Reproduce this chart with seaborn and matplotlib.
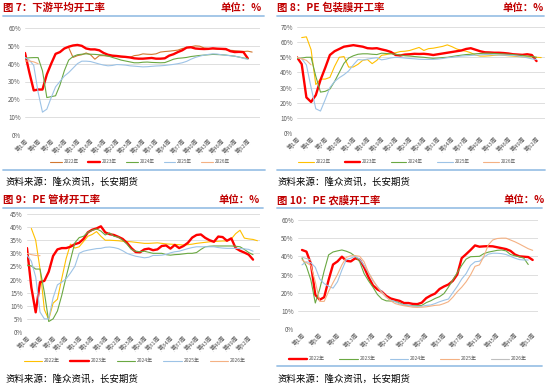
import pandas as pd
import numpy as np
import matplotlib
matplotlib.use('Agg')
import matplotlib.pyplot as plt
from matplotlib.lines import Line2D
import seaborn as sns

# ==========================================
# DATA  (weekly operating rate, %)
# ==========================================
years = ['2022年', '2023年', '2024年', '2025年', '2026年']

# Fig 7: downstream average
f7_2022 = [49, 43.5, 44.5, 45, 46, 45, 42.5, 44.5, 44.5, 44.2, 44, 44, 43.8, 43.5, 43.5, 44.5, 44.8,
           45.5, 45.3, 45.2, 45.5, 46.5, 46.8, 47, 47.3, 47.6, 48.5, 49, 49.5, 50, 49.8, 48.8, 48.5,
           48.3, 48.2, 48, 47.8, 47.5, 47.3, 47, 46.8, 47, 46.5]
f7_2023 = [46, 35, 25, 25.5, 25.5, 34, 40, 45.5, 46.5, 48.5, 49.5, 50.2, 50.5, 50, 48.5, 48, 48, 47.5,
           46, 45, 44.5, 44.3, 44, 43.8, 43.5, 43, 42.8, 42.8, 43, 43.2, 42.8, 42.8, 43, 44.5, 45.3,
           46.5, 47.5, 49, 49.2, 48.5, 48.3, 48.2, 48.3, 48.6, 48.4, 48.3, 48.2, 47, 46.5, 46.6, 46.5, 43]
f7_2024 = [43, 43.3, 43.4, 43.4, 36, 21, 21.5, 22, 28, 36, 42, 44, 45, 45.3, 45.5, 45.3, 45.2, 45,
           44.8, 44.3, 43.5, 42.8, 42, 41.5, 41, 40.5, 40.5, 40.8, 40.9, 40.7, 40.6, 40.5, 40.6, 41.5,
           42.5, 43, 43.2, 43.5, 44, 44.3, 44.6, 44.8, 45, 45.2, 45.1, 45, 44.8, 44.5, 44.2, 43.7, 43.2, 42.8]
f7_2025 = [43.5, 42, 39, 24, 12.8, 14.5, 21, 27, 30, 33, 35, 37.5, 40, 41.4, 41.4, 41.2, 40.5, 39.8,
           39.2, 38.8, 39, 39.5, 39.4, 39.2, 38.8, 38.6, 38.4, 38.2, 38.3, 38.5, 38.7, 38.8, 39, 39.3,
           39.6, 40, 40.5, 41.3, 42.5, 43.5, 44.2, 44.8, 45.2, 45.5, 45.4, 45, 44.7, 44.5, 44.2, 43.7, 43, 42.4]
f7_2026 = [41.5, 41.5, 41, 40]
f7_start = [11, 1, 1, 1, 1]

# Fig 8: PE packaging film
f8_2022 = [63, 63.5, 55, 32, 35.6, 35.6, 36.7, 44, 50, 50.5, 43.5, 43.6, 45.4, 48, 48.5, 45.8, 48,
           51.3, 51.8, 52.5, 53, 53.8, 54, 54.5, 55.5, 56.5, 54.5, 55.7, 56, 56.6, 57.2, 58.2, 57,
           55.5, 54.5, 54, 53, 51.5, 50.8, 50.8, 51, 51.3, 51.5, 51.3, 51, 50.8, 50.5, 50.3, 50.2,
           50.2, 50, 49.8]
f8_2023 = [50, 45.5, 23.5, 20.5, 25, 35, 43, 51.5, 54, 55.5, 57, 57.5, 58, 57.5, 57, 56, 55.8, 56,
           55.2, 54.5, 53.5, 51.5, 51.2, 51.8, 52, 52.3, 52.2, 52.3, 52, 51.5, 52, 52.5, 53, 53.5, 54,
           54.5, 55.5, 56, 55, 54, 53.3, 53.2, 53, 53, 52.8, 52.5, 52, 51.8, 51.6, 52, 51.5, 47.5]
f8_2024 = [49.2, 49.5, 50, 50, 37.5, 27, 27.5, 29, 34, 40, 46, 49.5, 51, 52, 52.3, 52.3, 52, 51.8,
           52.7, 52.5, 52.3, 52, 51.5, 51, 50.8, 50.5, 50.2, 50, 49.6, 49.3, 49.5, 49.8, 50, 50.5, 51,
           51.4, 51.8, 52, 52.3, 52.5, 52.7, 52.7, 52.5, 52.3, 52.2, 52, 51.8, 51.5, 51.2, 50.8, 50.5, 50]
f8_2025 = [50, 49, 45, 30, 16, 14.5, 22, 30, 34, 36.5, 38.5, 41, 45, 48.5, 48.2, 48.8, 49.3, 49.7,
           48.3, 48.8, 49.6, 50, 49.8, 49.5, 49.2, 49, 48.7, 48.6, 48.6, 48.6, 48.8, 49.2, 49.7, 50,
           50.4, 50.8, 51, 51.2, 51.4, 51.6, 51.8, 51.8, 51.6, 51.5, 51.4, 51.3, 51.2, 50.8, 50.3,
           49.7, 49, 48.5]
f8_2026 = [50, 49, 48, 45]
f8_start = [2, 1, 1, 1, 1]

# Fig 9: PE pipe
f9_2022 = [39.5, 35, 24, 8.5, 4.8, 11, 12.5, 20.4, 28, 33.5, 32, 32.5, 34.5, 36.5, 37.2, 38.3, 36.5,
           35, 35, 34.9, 34.8, 34.6, 34.5, 34.4, 34.2, 34, 33.8, 33.8, 33.9, 34, 33.8, 33.6, 33.5,
           33.4, 33.3, 33.2, 33.3, 33.5, 33.8, 34, 34.2, 34.4, 34.5, 34.6, 34.7, 34.7, 35.5, 37.5,
           38.8, 35.8, 35.5, 35.3, 34.8]
f9_2023 = [32, 17, 7.5, 19, 19.5, 23, 29, 31.5, 32, 32, 32.5, 33.5, 34, 35.5, 38, 39, 39.5, 40.3, 38,
           37.3, 37, 36.3, 35.5, 34, 32, 30.5, 30.4, 31.5, 31.8, 31.2, 31.5, 32.8, 33, 31.8, 33.2, 32,
           32.8, 34, 36, 37, 37.2, 35.9, 35, 34.4, 36.4, 36.2, 34.8, 35.7, 32, 31, 30.3, 29.5, 27.6]
f9_2024 = [25.5, 25.2, 24, 24, 15, 4, 5, 8, 14, 21, 27.5, 34, 36, 36.5, 38, 38.8, 39.3, 38.5, 37,
           37.8, 36.5, 36.2, 35, 33.5, 31.5, 30.8, 30.6, 30.8, 30.4, 30, 30, 30, 29.5, 29.3, 29.5,
           29.6, 29.8, 30, 30, 30.3, 31.5, 32.5, 32.7, 32.8, 32.8, 32.8, 32.8, 32.8, 32.7, 32.5,
           31.5, 30.3, 29.5]
f9_2025 = [29.3, 27, 21, 7.6, 5, 5, 13, 18, 19, 20.3, 22.5, 25, 30, 30.8, 31.2, 31.5, 31.8, 31.9,
           32.3, 32.4, 32.2, 31.8, 31, 30, 29.4, 28.9, 28.6, 28.3, 28.5, 29.2, 29.2, 29.3, 29.6, 30.2,
           30.6, 30.8, 31.3, 31.8, 32.2, 32.5, 32.5, 32.5, 32.5, 32.5, 32.2, 32, 31.9, 31.9, 31.9,
           31.8, 31.7, 31.5, 30.8]
f9_2026 = [30, 29.5, 29.2, 29.1]
f9_start = [2, 1, 1, 1, 1]

# Fig 10: PE agricultural film
f10_2022 = [43.5, 42.6, 36, 18.8, 16.1, 17.5, 27, 35.5, 37.2, 39.8, 37.5, 37.2, 38.9, 38.2, 34, 28.5,
            24, 21.8, 20.5, 18.2, 16.8, 16.1, 15.5, 14.3, 14.3, 13.8, 13.7, 14.5, 17, 18.4, 19.5, 22,
            23.4, 24.5, 26.5, 30, 39, 41.2, 43.5, 46, 45.3, 45.5, 45.6, 45.5, 45, 44.5, 44, 43, 41,
            40, 39.8, 39.6, 38]
f10_2023 = [39, 34.5, 27, 14.3, 22, 32, 40.8, 42.4, 43, 43.5, 42.8, 41.8, 40, 37, 30.5, 26.5, 23, 19,
            16.5, 15.5, 15.4, 15.2, 14.3, 13.3, 13, 12.8, 12.8, 13, 14.5, 15.5, 16.8, 17.8, 19.5, 23,
            27, 31, 35, 38.5, 39.8, 39.9, 40, 41.5, 42.3, 42.8, 43.3, 43.5, 43, 41, 40.3, 39.8, 39, 35.5]
f10_2024 = [35.3, 37, 36.5, 34, 27.5, 25, 23.5, 22.5, 26, 32.5, 38.2, 39, 40, 38.5, 35, 31, 26.5,
            23.4, 20.5, 17.5, 15.8, 15, 13.9, 13.3, 13, 12.6, 12.4, 12.5, 13, 13.2, 14, 15, 15.8,
            16.5, 20, 23.5, 27.5, 30.5, 35, 37, 37.3, 39.5, 41.2, 41.7, 41.7, 41.5, 41, 40, 39, 38.2,
            38, 38]
f10_2025 = [38, 36.5, 35, 26, 15.2, 15.2, 20.7, 25.5, 30, 35.3, 39.5, 40.3, 40.4, 40, 37, 31, 27, 23,
            20, 17.5, 15.5, 14, 13.3, 12.8, 12.4, 12, 11.9, 12, 12.2, 12.6, 13, 13.2, 14, 15, 17.5,
            20.5, 23, 26, 29.8, 34.5, 35.3, 40, 46.3, 49, 49.8, 50, 50, 49, 48, 46.8, 45.5, 44.2, 43.3]
f10_2026 = [39.5, 38.8, 38]
f10_start = [1, 1, 1, 1, 1]

# ==========================================
# STYLE
# ==========================================
sns.set_theme(style='white')
plt.rcParams['font.family'] = ['Noto Sans CJK SC', 'DejaVu Sans']

W, H = 550, 385
TITLE_RED = '#C00000'
RULE_BLUE = '#9DC3E6'
GRID = '#D9D9D9'
TICK_GREY = '#595959'

ORANGE, RED, GREEN, BLUE, SALMON = '#D2772F', '#FF0000', '#6AA842', '#9DC3E6', '#F4B183'
YELLOW, GREY = '#FFC000', '#BFBFBF'

fig = plt.figure(figsize=(W / 100, H / 100), dpi=100)
fig.patch.set_facecolor('white')


def fx(x):
    return x / W


def fy(y):
    return 1 - y / H


def rule(x0, x1, y):
    fig.add_artist(Line2D([fx(x0), fx(x1)], [fy(y), fy(y)], color=RULE_BLUE, lw=1.3,
                          transform=fig.transFigure))


def header(x0, x1, y, title):
    fig.text(fx(x0), fy(y), title, color=TITLE_RED, fontsize=7.5, fontweight='bold',
             ha='left', va='center')
    fig.text(fx(x1), fy(y), '单位：%', color=TITLE_RED, fontsize=7.5, fontweight='bold',
             ha='right', va='center')


def source(x0, y):
    fig.text(fx(x0), fy(y), '资料来源：隆众资讯，长安期货', color='black', fontsize=6.8,
             ha='left', va='center')


def draw_panel(rect, series, starts, colors, widths, ymax, ystep, xticks, xlim,
               leg_xy, leg_font, leg_hlen, leg_cs):
    ax = fig.add_axes(rect)
    rows = []
    for name, vals, s in zip(years, series, starts):
        for i, v in enumerate(vals):
            rows.append({'week': s + i, 'rate': v, 'year': name})
    df = pd.DataFrame(rows)
    sns.lineplot(data=df, x='week', y='rate', hue='year', size='year',
                 hue_order=years, size_order=years,
                 palette=dict(zip(years, colors)), sizes=dict(zip(years, widths)),
                 estimator=None, sort=False, legend=False, ax=ax)
    ax.set_ylim(0, ymax)
    ax.set_xlim(*xlim)
    yt = np.arange(0, ymax + 0.1, ystep)
    ax.set_yticks(yt)
    ax.set_yticklabels([f'{int(v)}%' for v in yt], fontsize=4.5, color=TICK_GREY)
    ax.set_xticks(xticks)
    ax.set_xticklabels([f'第{w}周' for w in xticks], fontsize=4.3, color=TICK_GREY,
                       rotation=45, ha='right', rotation_mode='anchor')
    ax.tick_params(axis='both', length=0, pad=3)
    ax.tick_params(axis='x', pad=2)
    ax.set_xlabel('')
    ax.set_ylabel('')
    ax.grid(axis='y', color=GRID, lw=0.6)
    ax.grid(axis='x', visible=False)
    for sp in ax.spines.values():
        sp.set_visible(False)
    ax.set_facecolor('white')
    handles = [Line2D([], [], color=c, lw=w) for c, w in zip(colors, widths)]
    ax.legend(handles, years, loc='center', bbox_to_anchor=(fx(leg_xy[0]), fy(leg_xy[1])),
              bbox_transform=fig.transFigure, ncol=5, frameon=False, fontsize=leg_font,
              handlelength=leg_hlen, columnspacing=leg_cs, handletextpad=0.4,
              labelcolor=TICK_GREY, borderpad=0)
    return ax


weeks3 = list(range(1, 53, 3))
weeks4 = list(range(1, 54, 4))

# ---- Fig 7 ----
header(3, 262, 7.5, '图 7：下游平均开工率')
rule(3, 264, 15.7)
draw_panel([fx(25), fy(135), 235 / W, 107 / H],
           [f7_2022, f7_2023, f7_2024, f7_2025, f7_2026], f7_start,
           [ORANGE, RED, GREEN, BLUE, SALMON], [0.8, 1.7, 0.8, 0.8, 0.8],
           60, 10, weeks3, (1, 54.8), (140, 162), 3.3, 2.6, 2.0)
rule(3, 265, 169.5)
source(5, 182.5)

# ---- Fig 8 ----
header(277, 544, 7.5, '图 8：PE 包装膜开工率')
rule(277, 544, 15.7)
draw_panel([fx(297), fy(133), 248 / W, 106 / H],
           [f8_2022, f8_2023, f8_2024, f8_2025, f8_2026], f8_start,
           [YELLOW, RED, GREEN, BLUE, SALMON], [0.8, 1.7, 0.8, 0.8, 0.8],
           70, 10, weeks3, (1, 53.8), (407, 162), 3.3, 3.4, 3.0)
rule(277, 545, 169.5)
source(278, 182.5)

# ---- Fig 9 ----
header(3, 260, 200, '图 9：PE 管材开工率')
rule(3, 263, 207.5)
draw_panel([fx(27), fy(332), 233 / W, 118 / H],
           [f9_2022, f9_2023, f9_2024, f9_2025, f9_2026], f9_start,
           [YELLOW, RED, GREEN, BLUE, SALMON], [0.8, 1.7, 0.8, 0.8, 0.8],
           45, 5, weeks3, (1, 54.6), (135, 361), 3.6, 3.7, 2.0)
source(5, 379)

# ---- Fig 10 ----
header(277, 545, 200, '图 10：PE 农膜开工率')
rule(277, 542, 207.5)
draw_panel([fx(298), fy(329), 240 / W, 109 / H],
           [f10_2022, f10_2023, f10_2024, f10_2025, f10_2026], f10_start,
           [RED, GREEN, BLUE, SALMON, GREY], [1.7, 0.8, 0.8, 0.8, 0.8],
           60, 10, weeks4, (0.1, 54.2), (408, 359), 3.6, 3.7, 2.8)
rule(277, 542, 365.5)
source(278, 379)

plt.savefig('out.png', dpi=100)
plt.close()
